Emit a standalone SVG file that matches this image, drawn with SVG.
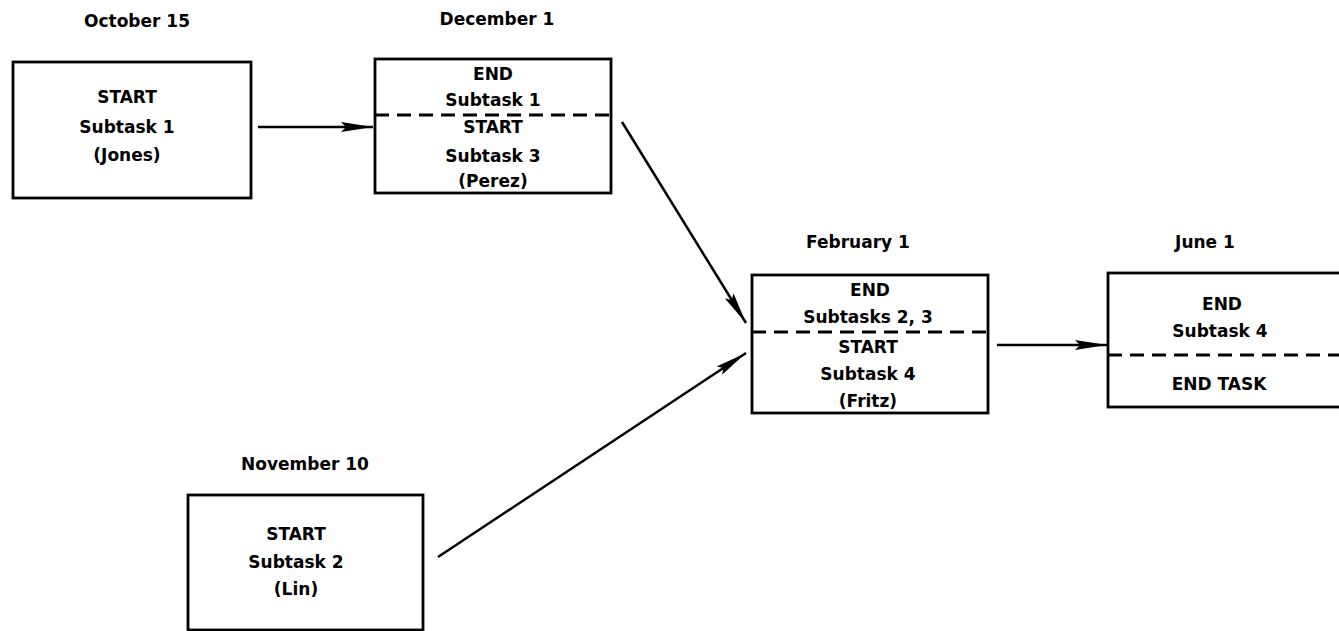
<svg xmlns="http://www.w3.org/2000/svg" width="1339" height="631" viewBox="0 0 1339 631">
<style>
.box{fill:#fff;stroke:#000;stroke-width:2.8}
.dash{stroke:#000;stroke-width:2.8;stroke-dasharray:14 8;fill:none}
.t{font-family:"DejaVu Sans","Liberation Sans",Arial,sans-serif;font-weight:bold;font-size:17px;fill:#000;text-anchor:middle}
.conn{stroke:#000;stroke-width:2.5;fill:none;marker-end:url(#ah)}
</style>
<defs>
<marker id="ah" markerUnits="userSpaceOnUse" markerWidth="34" markerHeight="14" refX="32" refY="6" orient="auto">
<path d="M0,1 L32,6 L0,11 L5,6 Z" fill="#000"/>
</marker>
</defs>
<rect width="1339" height="631" fill="#fff"/>
<g id="node-oct15">
<text class="t" x="137" y="27">October 15</text>
<rect class="box" x="13" y="62" width="238" height="136"/>
<text class="t" x="127" y="103">START</text>
<text class="t" x="127" y="133">Subtask 1</text>
<text class="t" x="127" y="161">(Jones)</text>
</g>
<g id="node-dec1">
<text class="t" x="497" y="25">December 1</text>
<rect class="box" x="375" y="59" width="236" height="134"/>
<line class="dash" x1="375" y1="115" x2="611" y2="115"/>
<text class="t" x="493" y="80">END</text>
<text class="t" x="493" y="106">Subtask 1</text>
<text class="t" x="493" y="133">START</text>
<text class="t" x="493" y="162">Subtask 3</text>
<text class="t" x="493" y="187">(Perez)</text>
</g>
<g id="node-nov10">
<text class="t" x="305" y="470">November 10</text>
<rect class="box" x="188" y="495" width="235" height="135"/>
<text class="t" x="296" y="540">START</text>
<text class="t" x="296" y="568">Subtask 2</text>
<text class="t" x="296" y="595">(Lin)</text>
</g>
<g id="node-feb1">
<text class="t" x="858" y="248">February 1</text>
<rect class="box" x="752" y="275" width="236" height="138"/>
<line class="dash" x1="752" y1="332" x2="988" y2="332"/>
<text class="t" x="870" y="296">END</text>
<text class="t" x="868" y="323">Subtasks 2, 3</text>
<text class="t" x="868" y="353">START</text>
<text class="t" x="868" y="380">Subtask 4</text>
<text class="t" x="868" y="407">(Fritz)</text>
</g>
<g id="node-jun1">
<text class="t" x="1205" y="248">June 1</text>
<rect class="box" x="1108" y="273" width="240" height="134"/>
<line class="dash" x1="1108" y1="355" x2="1339" y2="355"/>
<text class="t" x="1222" y="310">END</text>
<text class="t" x="1220" y="337">Subtask 4</text>
<text class="t" x="1219" y="390">END TASK</text>
</g>
<g id="connectors">
<line class="conn" x1="258" y1="127" x2="373" y2="127"/>
<line class="conn" x1="622" y1="122" x2="746" y2="323"/>
<line class="conn" x1="438" y1="557" x2="746" y2="353"/>
<line class="conn" x1="997" y1="345" x2="1107" y2="345"/>
</g>
</svg>
